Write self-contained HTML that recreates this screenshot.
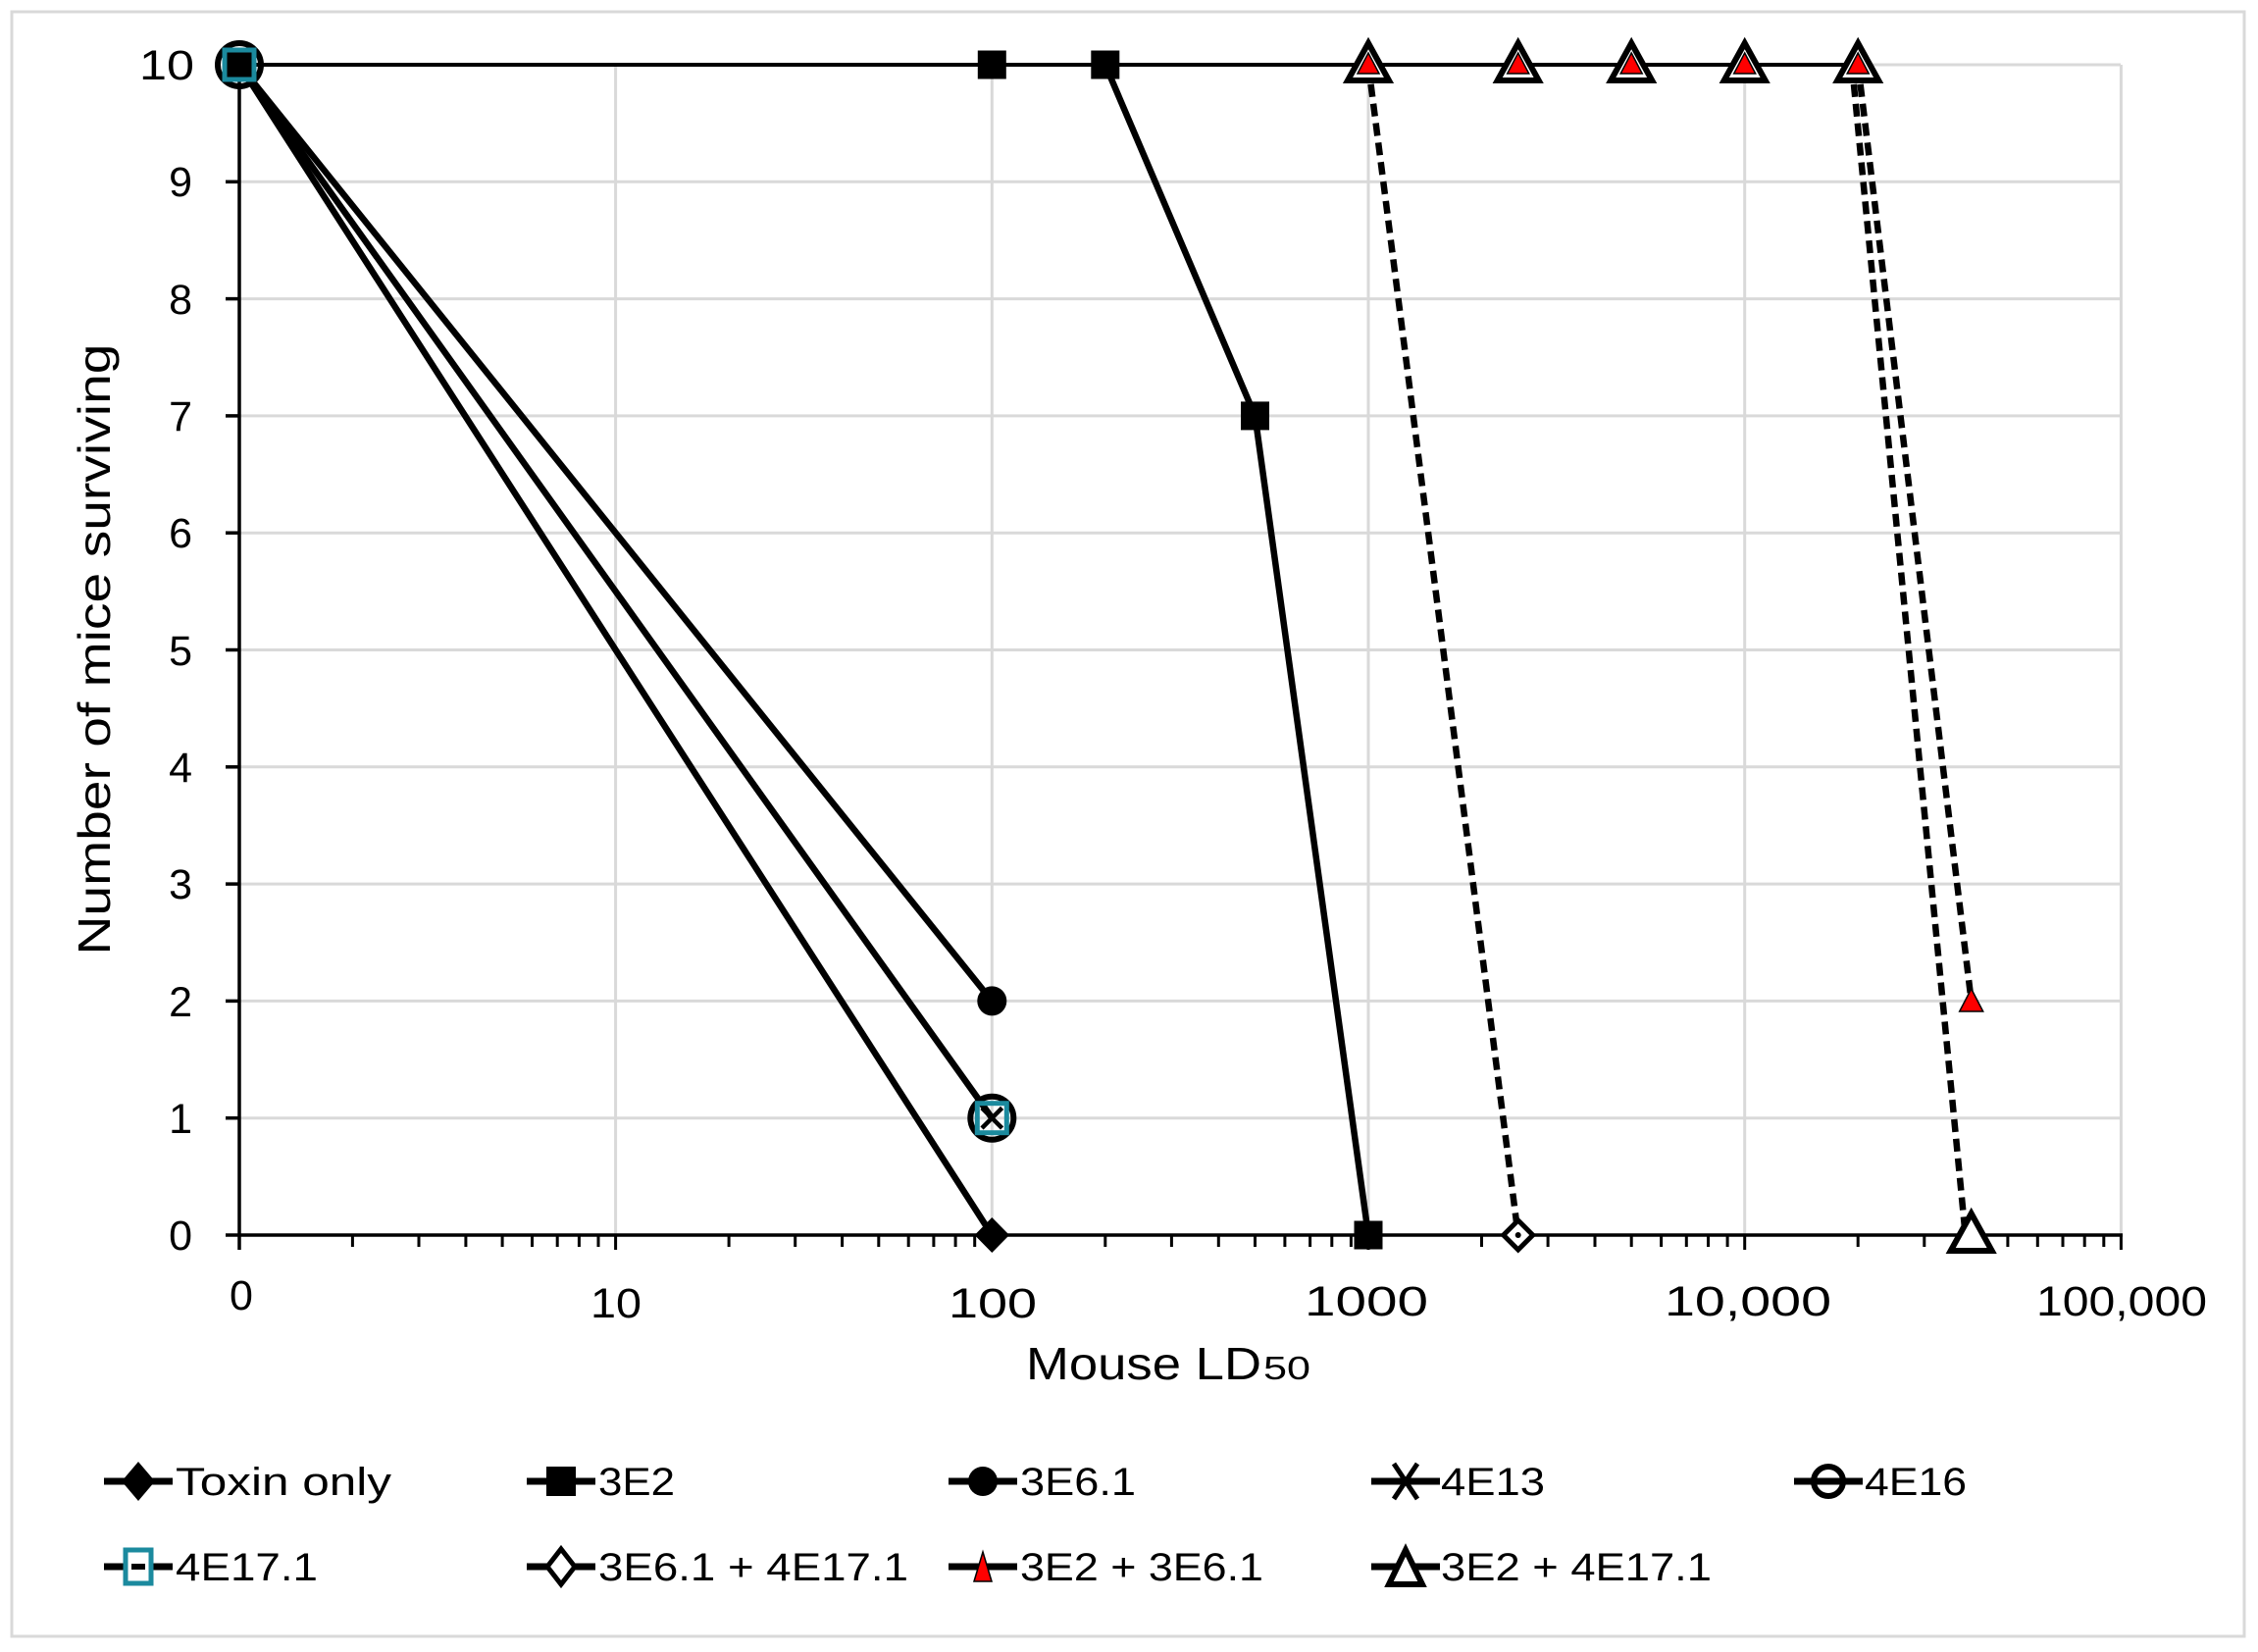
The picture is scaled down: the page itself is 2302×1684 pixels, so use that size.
<!DOCTYPE html>
<html><head><meta charset="utf-8"><style>
html,body{margin:0;padding:0;background:#fff;}
svg{display:block;}
text{font-family:"Liberation Sans",sans-serif;fill:#000;}
</style></head><body>
<svg width="2302" height="1684" viewBox="0 0 2302 1684" xmlns="http://www.w3.org/2000/svg">
<rect x="12" y="12" width="2276" height="1656" fill="#fff" stroke="#d9d9d9" stroke-width="3"/>
<g stroke="#d9d9d9" stroke-width="3">
<line x1="244" y1="66" x2="2162" y2="66"/>
<line x1="244" y1="185.3" x2="2162" y2="185.3"/>
<line x1="244" y1="304.6" x2="2162" y2="304.6"/>
<line x1="244" y1="423.9" x2="2162" y2="423.9"/>
<line x1="244" y1="543.2" x2="2162" y2="543.2"/>
<line x1="244" y1="662.5" x2="2162" y2="662.5"/>
<line x1="244" y1="781.8" x2="2162" y2="781.8"/>
<line x1="244" y1="901.1" x2="2162" y2="901.1"/>
<line x1="244" y1="1020.4" x2="2162" y2="1020.4"/>
<line x1="244" y1="1139.7" x2="2162" y2="1139.7"/>
<line x1="627.6" y1="66" x2="627.6" y2="1259"/>
<line x1="1011.3" y1="66" x2="1011.3" y2="1259"/>
<line x1="1395" y1="66" x2="1395" y2="1259"/>
<line x1="1778.7" y1="66" x2="1778.7" y2="1259"/>
<line x1="2162.4" y1="66" x2="2162.4" y2="1259"/>
</g>
<defs>
<g id="mt" stroke="#000" stroke-width="3">
<line x1="115.5" y1="1259" x2="115.5" y2="1271"/><line x1="183.1" y1="1259" x2="183.1" y2="1271"/>
<line x1="231" y1="1259" x2="231" y2="1271"/><line x1="268.2" y1="1259" x2="268.2" y2="1271"/>
<line x1="298.6" y1="1259" x2="298.6" y2="1271"/><line x1="324.3" y1="1259" x2="324.3" y2="1271"/>
<line x1="346.5" y1="1259" x2="346.5" y2="1271"/><line x1="366.1" y1="1259" x2="366.1" y2="1271"/>
<line x1="383.7" y1="1259" x2="383.7" y2="1274"/>
</g>
</defs>
<use href="#mt" transform="translate(243.9,0)"/>
<use href="#mt" transform="translate(627.6,0)"/>
<use href="#mt" transform="translate(1011.3,0)"/>
<use href="#mt" transform="translate(1395,0)"/>
<use href="#mt" transform="translate(1778.7,0)"/>
<g stroke="#000" stroke-width="3.5">
<line x1="244" y1="64" x2="244" y2="1274"/>
<line x1="230" y1="1259" x2="2164" y2="1259"/>
<line x1="230" y1="66" x2="244" y2="66"/><line x1="230" y1="185.3" x2="244" y2="185.3"/>
<line x1="230" y1="304.6" x2="244" y2="304.6"/><line x1="230" y1="423.9" x2="244" y2="423.9"/>
<line x1="230" y1="543.2" x2="244" y2="543.2"/><line x1="230" y1="662.5" x2="244" y2="662.5"/>
<line x1="230" y1="781.8" x2="244" y2="781.8"/><line x1="230" y1="901.1" x2="244" y2="901.1"/>
<line x1="230" y1="1020.4" x2="244" y2="1020.4"/><line x1="230" y1="1139.7" x2="244" y2="1139.7"/>
</g>
<g font-size="43" text-anchor="end">
<text x="198" y="81" textLength="56" lengthAdjust="spacingAndGlyphs">10</text><text x="196" y="200">9</text><text x="196" y="320">8</text>
<text x="196" y="439">7</text><text x="196" y="558">6</text><text x="196" y="678">5</text>
<text x="196" y="797">4</text><text x="196" y="916">3</text><text x="196" y="1036">2</text>
<text x="196" y="1155">1</text><text x="196" y="1274">0</text>
</g>
<g font-size="43" text-anchor="middle">
<text x="246" y="1335">0</text>
<text x="628" y="1343" textLength="52" lengthAdjust="spacingAndGlyphs">10</text>
<text x="1012" y="1343" textLength="90" lengthAdjust="spacingAndGlyphs">100</text>
<text x="1393" y="1341" textLength="126" lengthAdjust="spacingAndGlyphs">1000</text>
<text x="1782" y="1341" textLength="170" lengthAdjust="spacingAndGlyphs">10,000</text>
<text x="2163" y="1341" textLength="174" lengthAdjust="spacingAndGlyphs">100,000</text>
</g>
<text x="1046" y="1406" font-size="46" textLength="240" lengthAdjust="spacingAndGlyphs">Mouse LD</text>
<text x="1288" y="1406" font-size="33" textLength="48" lengthAdjust="spacingAndGlyphs">50</text>
<text transform="translate(112,662) rotate(-90)" font-size="46" text-anchor="middle" textLength="623" lengthAdjust="spacingAndGlyphs">Number of mice surviving</text>

<g fill="none" stroke="#000" stroke-width="6.5" stroke-linejoin="round">
<polyline points="244,66 1011.3,1259"/>
<polyline points="244,66 1011.3,1020.4"/>
<polyline points="244,66 1011.3,1139.7"/>
<polyline points="1126.8,66 1279.5,423.9 1395,1259"/>
</g>
<g fill="none" stroke="#000" stroke-width="4">
<line x1="244" y1="66" x2="1894.2" y2="66"/>
</g>
<g fill="none" stroke="#000" stroke-width="6.5" stroke-dasharray="13,7">
<line x1="1395" y1="66" x2="1547.7" y2="1259"/>
<line x1="1894.2" y1="66" x2="2009.7" y2="1020.4"/>
<line x1="1888" y1="66" x2="2003.7" y2="1259"/>
</g>

<polygon points="1011.3,1241 1029,1259 1011.3,1277 993.6,1259" fill="#000"/>
<g fill="#000">
<rect x="229.5" y="51.5" width="29" height="29"/>
<rect x="996.8" y="51.5" width="29" height="29"/>
<rect x="1112.3" y="51.5" width="29" height="29"/>
<rect x="1265" y="409.4" width="29" height="29"/>
<rect x="1380.5" y="1244.5" width="29" height="29"/>
<circle cx="1011.3" cy="1020.4" r="15"/>
</g>
<circle cx="244" cy="66" r="22" fill="none" stroke="#000" stroke-width="6"/>
<circle cx="1011.3" cy="1139.7" r="22" fill="none" stroke="#000" stroke-width="6"/>
<g stroke="#000" stroke-width="4.5">
<line x1="1001" y1="1129.4" x2="1021.6" y2="1150"/><line x1="1021.6" y1="1129.4" x2="1001" y2="1150"/>
</g>
<rect x="229" y="51" width="30" height="30" fill="none" stroke="#1b8a9e" stroke-width="5"/>
<rect x="996.3" y="1124.7" width="30" height="30" fill="none" stroke="#1b8a9e" stroke-width="5"/>
<rect x="235" y="57" width="18" height="18" fill="#000"/>
<polygon points="1547.7,1244 1562.7,1259 1547.7,1274 1532.7,1259" fill="#fff" stroke="#000" stroke-width="5"/>
<circle cx="1547.7" cy="1259" r="3" fill="#000"/>
<g fill="#fff" stroke="#000" stroke-width="6" stroke-linejoin="miter">
<polygon points="1395,44 1416,82 1374,82"/>
<polygon points="1547.7,44 1568.7,82 1526.7,82"/>
<polygon points="1663.2,44 1684.2,82 1642.2,82"/>
<polygon points="1778.7,44 1799.7,82 1757.7,82"/>
<polygon points="1894.2,44 1915.2,82 1873.2,82"/>
<polygon points="2009.7,1237 2030.7,1275 1988.7,1275"/>
</g>
<g fill="#ff0000" stroke="#000" stroke-width="1.5">
<polygon points="1395,54 1406,75 1384,75"/>
<polygon points="1547.7,54 1558.7,75 1536.7,75"/>
<polygon points="1663.2,54 1674.2,75 1652.2,75"/>
<polygon points="1778.7,54 1789.7,75 1767.7,75"/>
<polygon points="1894.2,54 1905.2,75 1883.2,75"/>
<polygon points="2009.7,1008 2021.7,1031 1997.7,1031"/>
</g>

<g stroke="#000" stroke-width="7">
<line x1="106" y1="1510" x2="176" y2="1510"/>
<line x1="537" y1="1510" x2="607" y2="1510"/>
<line x1="967" y1="1510" x2="1037" y2="1510"/>
<line x1="1398" y1="1510" x2="1468" y2="1510"/>
<line x1="1829" y1="1510" x2="1899" y2="1510"/>
<line x1="106" y1="1597" x2="176" y2="1597"/>
<line x1="537" y1="1597" x2="607" y2="1597"/>
<line x1="967" y1="1597" x2="1037" y2="1597"/>
<line x1="1398" y1="1597" x2="1468" y2="1597"/>
</g>
<polygon points="141,1490 158,1510 141,1530 124,1510" fill="#000"/>
<rect x="557" y="1495" width="30" height="30" fill="#000"/>
<circle cx="1002" cy="1510" r="15" fill="#000"/>
<g stroke="#000" stroke-width="5"><line x1="1421" y1="1492" x2="1445" y2="1528"/><line x1="1445" y1="1492" x2="1421" y2="1528"/></g>
<circle cx="1864" cy="1510" r="15" fill="none" stroke="#000" stroke-width="6"/>
<rect x="128" y="1580" width="26" height="34" fill="#fff" stroke="#1b8a9e" stroke-width="5"/>
<rect x="134" y="1594" width="14" height="6" fill="#000"/>
<polygon points="572,1579 586,1597 572,1615 558,1597" fill="#fff" stroke="#000" stroke-width="5"/>
<polygon points="1002,1582 1011,1612 993,1612" fill="#ff0000" stroke="#000" stroke-width="1.5"/>
<polygon points="1433,1580 1450,1615 1416,1615" fill="#fff" stroke="#000" stroke-width="6"/>
<g font-size="40">
<text x="179" y="1524" textLength="220" lengthAdjust="spacingAndGlyphs">Toxin only</text>
<text x="610" y="1524" textLength="78" lengthAdjust="spacingAndGlyphs">3E2</text>
<text x="1040" y="1524" textLength="118" lengthAdjust="spacingAndGlyphs">3E6.1</text>
<text x="1469" y="1524" textLength="106" lengthAdjust="spacingAndGlyphs">4E13</text>
<text x="1901" y="1524" textLength="104" lengthAdjust="spacingAndGlyphs">4E16</text>
<text x="179" y="1611" textLength="145" lengthAdjust="spacingAndGlyphs">4E17.1</text>
<text x="610" y="1611" textLength="316" lengthAdjust="spacingAndGlyphs">3E6.1 + 4E17.1</text>
<text x="1040" y="1611" textLength="248" lengthAdjust="spacingAndGlyphs">3E2 + 3E6.1</text>
<text x="1469" y="1611" textLength="276" lengthAdjust="spacingAndGlyphs">3E2 + 4E17.1</text>
</g>
</svg>
</body></html>
